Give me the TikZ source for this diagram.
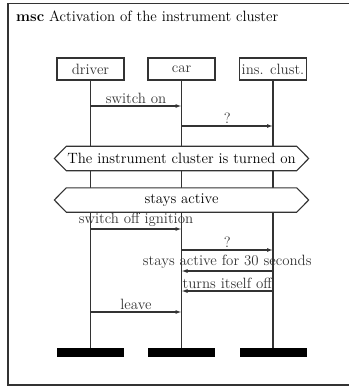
\documentclass[tikz,border=0pt]{standalone}
\usepackage{fontspec}
\usetikzlibrary{arrows.meta}
\begin{document}
\begin{tikzpicture}[x=1pt,y=-1pt,
  every node/.style={font=\fontsize{14.9}{17}\selectfont},
  ln/.style={line width=1.1pt,black!80},
  head/.style={draw,line width=1.1pt,black!80,minimum width=67pt,minimum height=22pt,inner sep=0pt},
  foot/.style={fill=black,minimum width=67pt,minimum height=9pt,inner sep=0pt},
  msg/.style={line width=1.1pt,black!80,-{Latex[length=6pt,width=4pt]}},
  lab/.style={above,inner sep=1.5pt},
  condbox/.style={minimum width=230pt,minimum height=24pt,inner sep=0pt}]
\useasboundingbox (0,0) rectangle (348,387);
% frame
\draw[ln] (360,3.5) -- (8,3.5) -- (8,385) -- (360,385);
\node[anchor=base west,inner sep=0pt] (title) at (16,22) {\textbf{msc} Activation of the instrument cluster};
% heads
\node[head] (hd) at (90.5,69) {driver};
\node[head] (hc) at (181.5,69) {car};
\node[head] (hi) at (273,69) {ins. clust.};
% feet
\node[foot] (fd) at (90.5,352.5) {};
\node[foot] (fc) at (181.5,352.5) {};
\node[foot] (fi) at (273,352.5) {};
% lifelines
\draw[ln] (hd) -- (fd);
\draw[ln] (hc) -- (fc);
\draw[ln] (hi) -- (fi);
% conditions
\node[condbox] (c1) at (181.5,158.5) {};
\node[condbox] (c2) at (181.5,200) {};
\foreach \c in {c1,c2}{
  \draw[ln,fill=white] (\c.north west) -- (\c.north east) -- ([xshift=12pt]\c.east) -- (\c.south east) -- (\c.south west) -- ([xshift=-12pt]\c.west) -- cycle;
}
\node[condbox] (t1) at (c1) {The instrument cluster is turned on};
\node[condbox] (t2) at (c2) {stays active};
% message endpoints
\coordinate (d1) at (90.5,106);  \coordinate (c1a) at (181.5,106);
\coordinate (c2a) at (181.5,126); \coordinate (i2) at (273,126);
\coordinate (d3) at (90.5,229);  \coordinate (c3) at (181.5,229);
\coordinate (c4) at (181.5,250); \coordinate (i4) at (273,250);
\coordinate (i5) at (273,271);   \coordinate (c5) at (181.5,271);
\coordinate (i6) at (273,291);   \coordinate (c6) at (181.5,291);
\coordinate (d7) at (90.5,312);  \coordinate (c7) at (181.5,312);
\draw[msg] (d1) -- (c1a) node[midway,lab] {switch on};
\draw[msg] (c2a) -- (i2) node[midway,lab] {?};
\draw[msg] (d3) -- (c3) node[midway,lab] {switch off ignition};
\draw[msg] (c4) -- (i4) node[midway,lab] {?};
\draw[msg] (i5) -- (c5) node[midway,lab] {stays active for 30 seconds};
\draw[msg] (i6) -- (c6) node[midway,lab] {turns itself off};
\draw[msg] (d7) -- (c7) node[midway,lab] {leave};
\end{tikzpicture}
\end{document}
